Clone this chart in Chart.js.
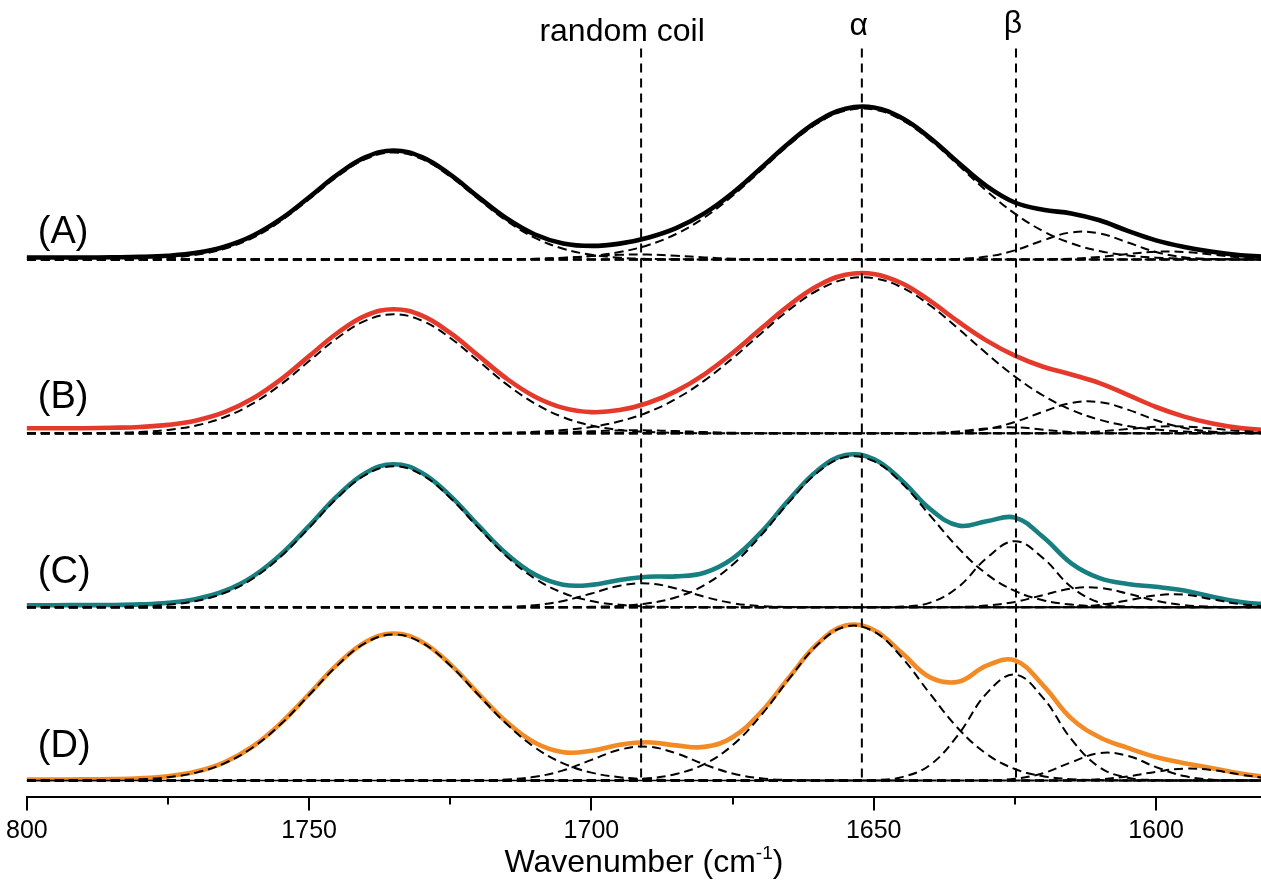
<!DOCTYPE html>
<html><head><meta charset="utf-8">
<script src="https://cdn.jsdelivr.net/npm/chart.js@4.4.1/dist/chart.umd.min.js"></script>
<style>html,body{margin:0;padding:0;background:#fff;overflow:hidden}canvas{display:block}</style>
</head><body>
<canvas id="c" width="1261" height="882"></canvas>
<script>
// ---- data ----
const wavenumber = [1800,1795,1790,1785,1780,1775,1770,1765,1760,1755,1750,1745,1740,1735,1730,1725,1720,1715,1710,1705,1700,1695,1690,1685,1680,1675,1670,1665,1660,1655,1650,1645,1640,1635,1630,1625,1620,1615,1610,1605,1600,1595,1590,1585,1580];

// stacking offsets of the four spectra (baseline heights)
const baselines = [537, 363.2, 189.3, 16];
const curveNames = ['(A)','(B)','(C)','(D)'];
const curveColors = ['#000000','#e5392b','#177f7f','#f28b26'];

// measured composite spectra (height above own baseline)
const spectrumA = [2,2,2,2.2,2.6,3.8,6.7,12.8,23.7,40.6,62.3,84.9,102.4,109,102.4,84.9,62.4,41.0,25.0,16.1,13.6,15.9,21.8,31.4,46.1,66.5,91.3,116.6,138.0,150.8,152.0,141.4,121.5,96.8,73.4,57.0,49.7,46.1,39.2,28.6,19.1,12.5,7.7,4.3,2.6];
const spectrumB = [5.0,5.0,5.1,5.5,6.3,8.4,12.8,21.1,34.7,53.9,77.2,100.3,117.6,124.0,117.6,100.4,77.5,54.6,36.6,25.4,21.2,23.2,30.3,42.2,59.0,80.3,104.5,128.0,147.3,158.5,159.4,150.0,132.4,111.6,92.7,77.7,66.6,58.8,50.2,38.4,26.3,16.7,9.8,5.2,2.9];
const spectrumC = [2.0,2.0,2.1,2.2,2.8,4.4,8.2,16.2,30.6,52.8,81.4,111.3,134.3,143.0,134.3,111.3,81.5,53.2,32.6,22.5,22.3,27.2,30.5,30.8,34.5,48.6,74.6,107.3,136.5,152.1,148.0,126.5,98.2,81.6,85.9,89.6,70.2,43.9,29.1,23.2,20.4,16.6,10.4,5.1,2.7];
const spectrumD = [1.0,1.0,1.1,1.4,2.2,4.3,8.9,18.2,34.0,57.4,86.5,116.1,138.6,147.0,138.6,116.1,86.7,58.4,37.7,28.3,29.7,35.7,38.2,35.1,33.6,43.3,68.1,103.0,136.5,154.9,150.5,127.4,103.1,98.8,114.9,120.1,95.2,62.1,43.2,32.6,23.5,17.3,12.3,6.9,3.1];

// fitted component bands: [first wavenumber, values...] (zero elsewhere)
const bandsA1 = [1785, 0.2,0.6,1.8,4.7,10.8,21.7,38.6,60.3,82.9,100.4,107,100.4,82.9,60.3,38.6,21.7,10.8,4.7,1.8,0.6,0.2];
const bandsA2 = [1715, 0.2,0.7,1.8,3.4,4.7,4.9,3.7,2.1,0.8,0.3];
const bandsA3 = [1720, 0.1,0.2,0.6,1.5,3.5,7.4,14.3,25.5,42.0,63.7,89.0,114.6,136.0,148.8,150.0,139.4,119.4,94.2,68.5,45.9,28.4,16.2,8.5,4.1,1.8,0.8,0.3,0.1];
const bandsA4 = [1640, 0.1,0.6,2.9,9.1,19.1,27.1,26.1,17.0,7.5,2.2,0.5,0.1];
const bandsA5 = [1620, 0.2,0.8,2.6,5.5,7.8,7.5,4.9,2.1,0.6];

const bandsB1 = [1790, 0.1,0.5,1.3,3.4,7.8,16.1,29.7,48.9,72.2,95.3,112.6,119,112.6,95.3,72.2,48.9,29.7,16.1,7.8,3.4,1.3,0.5,0.1];
const bandsB2 = [1715, 0.1,0.4,1.1,2.0,2.8,2.9,2.2,1.2,0.5,0.2];
const bandsB3 = [1725, 0.1,0.3,0.6,1.5,3.2,6.4,12.0,21.1,34.5,52.7,75.0,99.6,123.4,142.8,154.1,155.1,145.8,127.8,104.5,79.8,56.8,37.8,23.4,13.6,7.3,3.7,1.7,0.8,0.3,0.1];
const bandsB4 = [1645, 0.04,0.4,1.9,4.8,5.9,3.6,1.1,0.2];
const bandsB5 = [1640, 0.2,1.3,4.3,11.3,21.6,30.3,31.2,23.7,13.1,5.4,1.6,0.3,0.1];
const bandsB6 = [1620, 0.1,0.6,1.9,4.2,6.5,6.8,4.8,2.3,0.7];

const bandsC1 = [1790, 0.06,0.2,0.8,2.4,6.2,14.2,28.6,50.8,79.4,109.3,132.3,141,132.3,109.3,79.4,50.8,28.6,14.2,6.2,2.4,0.8,0.2,0.06];
const bandsC2 = [1720, 0.1,0.4,2.0,6.2,13.7,21.5,23.8,18.7,10.4,4.1,1.1,0.2];
const bandsC3 = [1705, 0.1,0.4,1.3,3.9,9.9,22.0,42.5,71.5,105.1,134.5,150.1,146.0,123.9,91.6,59.1,33.2,16.3,6.9,2.6,0.8,0.2];
const bandsC4 = [1650, 0.04,0.6,4.6,20.2,49.1,66,49.1,20.2,4.6,0.6,0.04];
const bandsC5 = [1640, 0.04,0.3,1.6,5.3,12.1,18.6,19.4,13.6,6.5,2.1,0.5,0.1];
const bandsC6 = [1620, 0.06,0.5,2.3,6.8,11.9,12.5,7.9,3.0,0.7];

const bandsD1 = [1790, 0.1,0.4,1.2,3.3,7.9,17.2,33.0,56.4,85.5,115.1,137.6,146,137.6,115.1,85.5,56.4,33.0,17.2,7.9,3.3,1.2,0.4,0.1];
const bandsD2 = [1720, 0.2,1.0,3.7,10.1,20.6,30.8,33.8,27.2,16.1,7.0,2.2,0.5,0.1];
const bandsD3 = [1700, 0.15,0.6,2.2,6.5,16.4,35.3,64.9,101.5,135.4,153.9,149.0,123.0,86.5,51.8,26.5,11.5,4.3,1.35,0.4,0.1];
const bandsD4 = [1650, 0.5,3.4,15.6,46.0,87.1,105.9,82.6,41.3,13.2,2.7,0.4];
const bandsD5 = [1630, 0.25,1.7,7.3,18.2,27.4,24.7,13.4,4.4,0.85,0.1];
const bandsD6 = [1620, 0.03,0.24,1.2,4.1,8.7,11.9,10.4,5.8,2.1];

// assignment lines
const refLines = [1691.2, 1652.1, 1624.8];
const refNames = ['random coil', '\u03B1', '\u03B2'];
const refTop = 748;

// axis
const xMin = 1581.4, xMax = 1800;
const tickValues = [1800, 1750, 1700, 1650, 1600];
const tickLabels = ['800', '1750', '1700', '1650', '1600'];
const minorTickValues = [1775, 1725, 1675, 1625];
const axisTitle = 'Wavenumber (cm';
const axisTitleSup = '-1';
const axisTitleEnd = ')';

// ---- build datasets ----
function onGrid(band) {
  const start = wavenumber.indexOf(band[0]);
  const vals = band.slice(1);
  return wavenumber.map((w, i) => (i >= start && i < start + vals.length) ? vals[i - start] : 0);
}
const spectra = [spectrumA, spectrumB, spectrumC, spectrumD];
const bands = [
  [bandsA1, bandsA2, bandsA3, bandsA4, bandsA5],
  [bandsB1, bandsB2, bandsB3, bandsB4, bandsB5, bandsB6],
  [bandsC1, bandsC2, bandsC3, bandsC4, bandsC5, bandsC6],
  [bandsD1, bandsD2, bandsD3, bandsD4, bandsD5, bandsD6]
];
const FONT = '"Liberation Sans", Arial, Helvetica, sans-serif';
const DASH = [9, 5];
const datasets = [];
spectra.forEach((s, k) => {
  const off = baselines[k];
  // dashed baseline
  datasets.push({ data: [{x: xMax, y: off}, {x: xMin, y: off}], borderColor: '#000', borderWidth: 2,
    borderDash: DASH, tension: 0, order: 2 });
  bands[k].forEach(b => {
    const v = onGrid(b);
    datasets.push({ data: wavenumber.map((w, i) => ({x: w, y: off + v[i]})), borderColor: '#000',
      borderWidth: 2, borderDash: DASH, tension: 0.4, order: 2 });
  });
  datasets.push({ data: wavenumber.map((w, i) => ({x: w, y: off + s[i]})), borderColor: curveColors[k],
    borderWidth: 4.6, tension: 0.4, order: 3, borderCapStyle: 'round' });
});
// thin solid baseline under (D)
datasets.push({ data: [{x: xMax, y: baselines[3]}, {x: 1645, y: baselines[3]}], borderColor: '#000',
  borderWidth: 1.6, tension: 0, order: 2 });
// assignment lines
refLines.forEach(r => {
  datasets.push({ data: [{x: r, y: refTop}, {x: r, y: baselines[3]}], borderColor: '#000', borderWidth: 2,
    borderDash: [9, 6], tension: 0, order: 1 });
});

const labelPlugin = {
  id: 'labels',
  afterDraw(chart) {
    const ctx = chart.ctx, xs = chart.scales.x, ys = chart.scales.y, ca = chart.chartArea;
    ctx.save();
    ctx.fillStyle = '#000';
    ctx.strokeStyle = '#000';
    // minor ticks
    ctx.lineWidth = 2;
    minorTickValues.forEach(v => {
      const px = Math.round(xs.getPixelForValue(v));
      ctx.beginPath(); ctx.moveTo(px, ca.bottom); ctx.lineTo(px, ca.bottom + 8); ctx.stroke();
    });
    // curve names
    ctx.font = '38px ' + FONT;
    ctx.textAlign = 'left';
    ctx.textBaseline = 'alphabetic';
    const nameDy = [-17, -25, -24, -24];
    curveNames.forEach((n, k) => {
      ctx.fillText(n, ca.left + 11, ys.getPixelForValue(baselines[k]) + nameDy[k]);
    });
    // assignment names
    ctx.font = '32px ' + FONT;
    ctx.textAlign = 'center';
    const refDx = [-19, -3, -3], refY = [41, 35, 33];
    refNames.forEach((n, j) => {
      ctx.fillText(n, xs.getPixelForValue(refLines[j]) + refDx[j], refY[j]);
    });
    // axis title with superscript
    const big = '32px ' + FONT, small = '19px ' + FONT;
    ctx.font = big; const w1 = ctx.measureText(axisTitle).width, w3 = ctx.measureText(axisTitleEnd).width;
    ctx.font = small; const w2 = ctx.measureText(axisTitleSup).width;
    const total = w1 + w2 + w3;
    let x0 = (ca.left + ca.right) / 2 - total / 2;
    const yb = 872;
    ctx.textAlign = 'left';
    ctx.font = big; ctx.fillText(axisTitle, x0, yb);
    ctx.font = small; ctx.fillText(axisTitleSup, x0 + w1, yb - 13);
    ctx.font = big; ctx.fillText(axisTitleEnd, x0 + w1 + w2, yb);
    ctx.restore();
  }
};

new Chart(document.getElementById('c'), {
  type: 'line',
  data: { datasets },
  options: {
    responsive: false,
    animation: false,
    devicePixelRatio: 1,
    layout: { padding: { left: 26.7, right: 0, top: 0, bottom: 0 } },
    elements: { point: { radius: 0 }, line: { borderJoinStyle: 'round' } },
    plugins: { legend: { display: false }, tooltip: { enabled: false } },
    scales: {
      x: {
        type: 'linear', reverse: true, min: xMin, max: xMax,
        afterBuildTicks: (s) => { s.ticks = tickValues.map(v => ({ value: v })); },
        afterFit: (s) => { s.height = 85.5; },
        ticks: { autoSkip: false, maxRotation: 0, padding: 6, color: '#000',
          font: { family: FONT, size: 25 },
          callback: (v) => tickLabels[tickValues.indexOf(v)] },
        grid: { drawOnChartArea: false, drawTicks: true, tickLength: 14, tickWidth: 2, tickColor: '#000', color: '#000', lineWidth: 2 },
        border: { display: true, color: '#000', width: 2 }
      },
      y: { display: false, min: 0, max: 796.5 }
    }
  },
  plugins: [labelPlugin]
});
</script>
</body></html>
